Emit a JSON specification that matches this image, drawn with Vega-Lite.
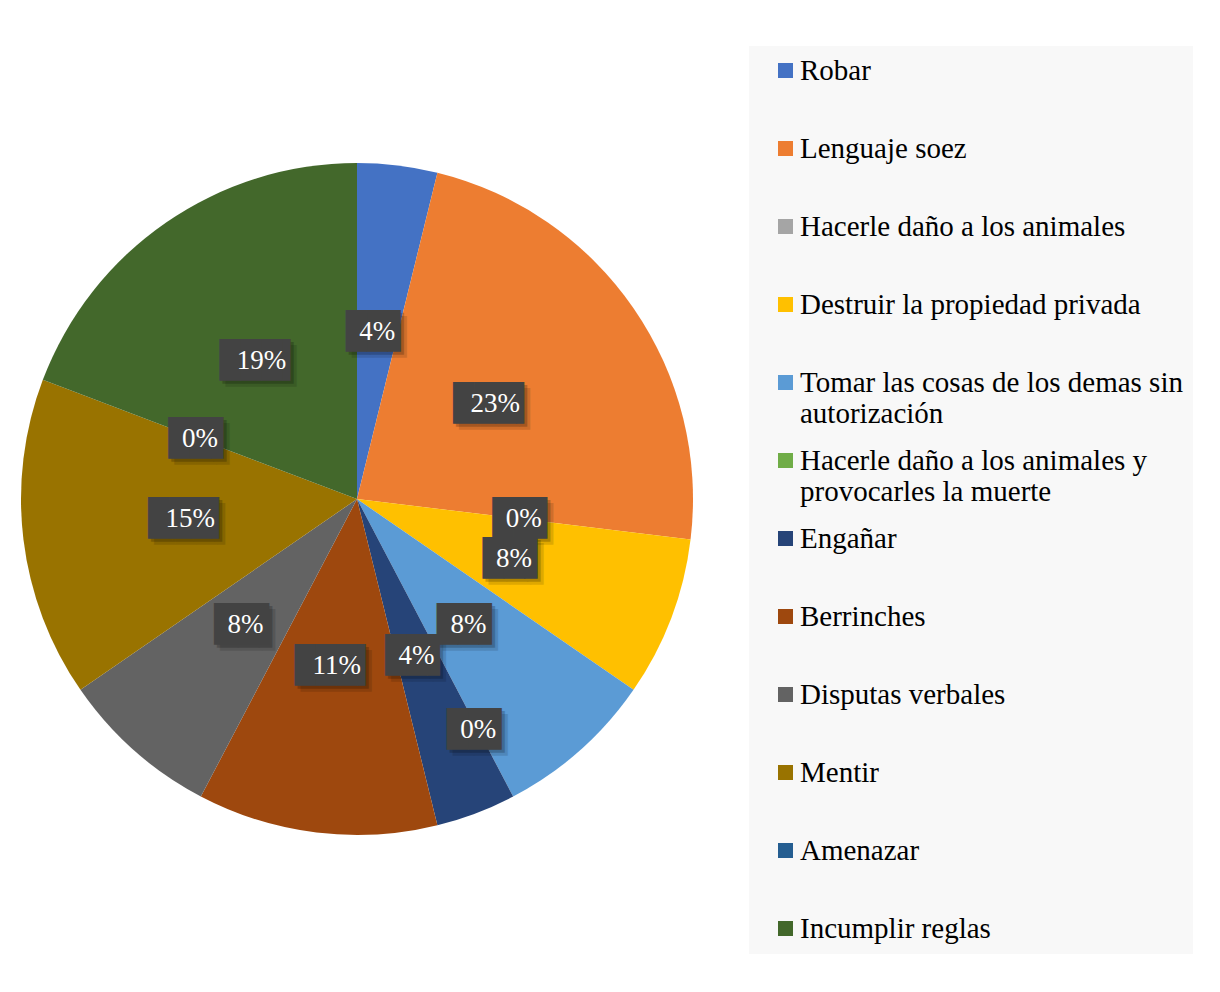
{
  "$schema": "https://vega.github.io/schema/vega-lite/v6.json",
  "width": 700,
  "height": 978,
  "padding": {"left": 7, "top": 10, "right": 0, "bottom": 0},
  "background": "white",
  "config": {"view": {"stroke": null}},
  "data": {
    "values": [
      {"idx": 1, "category": "Robar", "count": 1, "label": "4%"},
      {"idx": 2, "category": "Lenguaje soez", "count": 6, "label": "23%"},
      {"idx": 3, "category": "Hacerle daño a los animales", "count": 0, "label": "0%"},
      {"idx": 4, "category": "Destruir la propiedad privada", "count": 2, "label": "8%"},
      {"idx": 5, "category": "Tomar las cosas de los demas sin autorización", "count": 2, "label": "8%"},
      {"idx": 6, "category": "Hacerle daño a los animales y provocarles la muerte", "count": 0, "label": "0%"},
      {"idx": 7, "category": "Engañar", "count": 1, "label": "4%"},
      {"idx": 8, "category": "Berrinches", "count": 3, "label": "11%"},
      {"idx": 9, "category": "Disputas verbales", "count": 2, "label": "8%"},
      {"idx": 10, "category": "Mentir", "count": 4, "label": "15%"},
      {"idx": 11, "category": "Amenazar", "count": 0, "label": "0%"},
      {"idx": 12, "category": "Incumplir reglas", "count": 5, "label": "19%"}
    ]
  },
  "encoding": {
    "theta": {"field": "count", "type": "quantitative", "stack": true},
    "order": {"field": "idx", "type": "quantitative"}
  },
  "layer": [
    {
      "mark": {"type": "arc", "outerRadius": 336, "strokeWidth": 0},
      "encoding": {
        "color": {
          "field": "category",
          "type": "nominal",
          "scale": {
            "domain": ["Robar", "Lenguaje soez", "Hacerle daño a los animales", "Destruir la propiedad privada", "Tomar las cosas de los demas sin autorización", "Hacerle daño a los animales y provocarles la muerte", "Engañar", "Berrinches", "Disputas verbales", "Mentir", "Amenazar", "Incumplir reglas"],
            "range": ["#4472C4", "#ED7D31", "#A5A5A5", "#FFC000", "#5B9BD5", "#70AD47", "#264478", "#9E480E", "#636363", "#997300", "#255E91", "#43682B"]
          },
          "legend": {
            "title": null,
            "orient": "none",
            "direction": "vertical",
            "legendX": 742,
            "legendY": 36,
            "fillColor": "#F8F8F8",
            "padding": 10,
            "symbolType": "square",
            "symbolSize": 225,
            "symbolStrokeWidth": 0,
            "symbolOffset": 12,
            "labelOffset": 0,
            "labelFont": "Liberation Serif",
            "labelFontSize": 29,
            "labelColor": "#000000",
            "labelLimit": 0,
            "labelBaseline": "middle",
            "gridAlign": "all",
            "rowPadding": 17,
            "labelExpr": "datum.value == 'Tomar las cosas de los demas sin autorización' ? ['Tomar las cosas de los demas sin', 'autorización'] : datum.value == 'Hacerle daño a los animales y provocarles la muerte' ? ['Hacerle daño a los animales y', 'provocarles la muerte'] : datum.label",
            "encode": {
              "labels": {
                "dy": {"condition": {"test": "length(datum.value) > 35", "value": 16}, "value": 0},
                "lineHeight": {"value": 33}
              }
            }
          }
        }
      }
    },
    {
      "mark": {"type": "text", "radius": 168, "font": "DejaVu Sans Mono", "fontSize": 35, "fill": "#000000", "opacity": 0.12, "dx": 6, "dy": 6, "align": "center", "baseline": "middle"},
      "encoding": {
        "detail": {"field": "category"},
        "text": {"condition": [{"test": "datum.category == 'Hacerle daño a los animales y provocarles la muerte'", "value": ""}, {"test": "length(datum.label) == 3", "value": "███▍"}], "value": "██▋"}
      }
    },
    {
      "mark": {"type": "text", "radius": 168, "font": "DejaVu Sans Mono", "fontSize": 35, "fill": "#000000", "opacity": 0.2, "dx": 3, "dy": 3, "align": "center", "baseline": "middle"},
      "encoding": {
        "detail": {"field": "category"},
        "text": {"condition": [{"test": "datum.category == 'Hacerle daño a los animales y provocarles la muerte'", "value": ""}, {"test": "length(datum.label) == 3", "value": "███▍"}], "value": "██▋"}
      }
    },
    {
      "mark": {"type": "text", "radius": 261, "font": "DejaVu Sans Mono", "fontSize": 35, "fill": "#000000", "opacity": 0.12, "dx": 6, "dy": 6, "align": "center", "baseline": "middle"},
      "encoding": {
        "detail": {"field": "category"},
        "text": {"condition": {"test": "datum.category == 'Hacerle daño a los animales y provocarles la muerte'", "value": "██▋"}, "value": ""}
      }
    },
    {
      "mark": {"type": "text", "radius": 261, "font": "DejaVu Sans Mono", "fontSize": 35, "fill": "#000000", "opacity": 0.2, "dx": 3, "dy": 3, "align": "center", "baseline": "middle"},
      "encoding": {
        "detail": {"field": "category"},
        "text": {"condition": {"test": "datum.category == 'Hacerle daño a los animales y provocarles la muerte'", "value": "██▋"}, "value": ""}
      }
    },
    {
      "mark": {"type": "text", "radius": 168, "font": "DejaVu Sans Mono", "fontSize": 35, "fill": "#434343", "align": "center", "baseline": "middle"},
      "encoding": {
        "detail": {"field": "category"},
        "text": {"condition": [{"test": "datum.category == 'Hacerle daño a los animales y provocarles la muerte'", "value": ""}, {"test": "length(datum.label) == 3", "value": "███▍"}], "value": "██▋"}
      }
    },
    {
      "mark": {"type": "text", "radius": 261, "font": "DejaVu Sans Mono", "fontSize": 35, "fill": "#434343", "align": "center", "baseline": "middle"},
      "encoding": {
        "detail": {"field": "category"},
        "text": {"condition": {"test": "datum.category == 'Hacerle daño a los animales y provocarles la muerte'", "value": "██▋"}, "value": ""}
      }
    },
    {
      "mark": {"type": "text", "radius": 168, "font": "Liberation Serif", "fontSize": 27, "fill": "#FFFFFF", "align": "center", "baseline": "middle"},
      "encoding": {
        "detail": {"field": "category"},
        "text": {"condition": {"test": "datum.category == 'Hacerle daño a los animales y provocarles la muerte'", "value": ""}, "field": "label"}
      }
    },
    {
      "mark": {"type": "text", "radius": 261, "font": "Liberation Serif", "fontSize": 27, "fill": "#FFFFFF", "align": "center", "baseline": "middle"},
      "encoding": {
        "detail": {"field": "category"},
        "text": {"condition": {"test": "datum.category != 'Hacerle daño a los animales y provocarles la muerte'", "value": ""}, "field": "label"}
      }
    }
  ]
}
